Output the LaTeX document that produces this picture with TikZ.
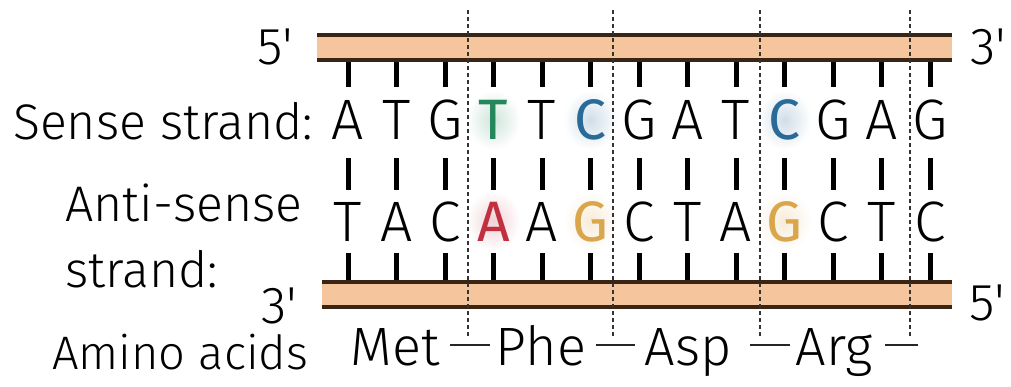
\documentclass[tikz,border=0pt]{standalone}
\usepackage{fontspec}
\setmainfont{Fira Sans Light}
\newfontfamily\heavyface{Fira Sans}
\definecolor{peach}{HTML}{F5C69E}
\definecolor{strandbrown}{HTML}{3A2414}
\definecolor{tgreen}{HTML}{23875A}
\definecolor{cblue}{HTML}{2A6A98}
\definecolor{ared}{HTML}{C0303F}
\definecolor{gtan}{HTML}{D9A64E}
\newcommand{\prm}{\textquotesingle}
\tikzset{
  barline/.style={draw=strandbrown, line width=3.5pt},
  basetick/.style={line width=5pt, black},
  codonsep/.style={line width=1.8pt, dash pattern=on 4pt off 3pt, black!80},
  base/.style={font=\fontsize{57}{57}\selectfont, inner sep=0pt, anchor=base},
  hbase/.style={font=\fontsize{57}{57}\selectfont\heavyface, inner sep=0pt, anchor=base, text=#1},
  label/.style={font=\fontsize{50}{50}\selectfont, inner sep=0pt, anchor=base west},
  endlabel/.style={font=\fontsize{52}{52}\selectfont, inner sep=0pt, anchor=base},
  amino/.style={font=\fontsize{54}{54}\selectfont, inner sep=0pt, anchor=base},
  peptide/.style={line width=2.5pt, black!85},
  halo/.style={inner color=#1!22, outer color=white}
}
\begin{document}
\begin{tikzpicture}[x=1pt,y=-1pt]
\useasboundingbox (0,0) rectangle (1011,387);

% soft glow behind the highlighted bases
\foreach \i/\c/\yy in {4/tgreen/120, 6/cblue/120, 10/cblue/120, 4/ared/221, 6/gtan/221, 10/gtan/221}{
  \shade[halo=\c] ({348+(\i-1)*48.5},\yy) ellipse (27 and 30);
}

% sugar-phosphate backbones
\fill[peach] (317,35) rectangle (952,60);
\draw[barline] (317,35) -- (952,35);
\draw[barline] (317,60) -- (952,60);
\fill[peach] (322,282) rectangle (952,307);
\draw[barline] (322,282) -- (952,282);
\draw[barline] (322,307) -- (952,307);

% base ticks
\foreach \i in {1,...,13}{
  \pgfmathsetmacro{\xx}{348+(\i-1)*48.5}
  \draw[basetick] (\xx,62) -- (\xx,87);
  \draw[basetick] (\xx,158) -- (\xx,190);
  \draw[basetick] (\xx,253) -- (\xx,280);
}

% sense strand bases (plain and highlighted)
\foreach \b/\i in {A/1,T/2,G/3,T/5,G/7,A/8,T/9,G/11,A/12,G/13}{
  \node[base] (s\i) at ({348+(\i-1)*48.5},140) {\b};
}
\foreach \b/\i/\c in {T/4/tgreen,C/6/cblue,C/10/cblue}{
  \node[hbase=\c] (s\i) at ({348+(\i-1)*48.5},140) {\b};
}
% anti-sense strand bases (plain and highlighted)
\foreach \b/\i in {T/1,A/2,C/3,A/5,C/7,T/8,A/9,C/11,T/12,C/13}{
  \node[base] (a\i) at ({348+(\i-1)*48.5},242) {\b};
}
\foreach \b/\i/\c in {A/4/ared,G/6/gtan,G/10/gtan}{
  \node[hbase=\c] (a\i) at ({348+(\i-1)*48.5},242) {\b};
}

% codon boundaries
\foreach \xx in {468,613,760,910}{
  \draw[codonsep] (\xx,10) -- (\xx,337);
}

% strand ends
\node[endlabel] (top5) at (275,65) {5\prm};
\node[endlabel] (top3) at (988,65) {3\prm};
\node[endlabel] (bot3) at (279,323) {3\prm};
\node[endlabel] (bot5) at (987,320) {5\prm};

% row labels
\node[label] (sense) at (13,140) {Sense strand:};
\node[label] (anti1) at (65,222) {Anti-sense};
\node[label, font=\fontsize{50}{50}\selectfont] (anti2) at (65,287) {strand:};
\node[label, font=\fontsize{47}{47}\selectfont] (aalab) at (52,369) {Amino acids};

% amino acid chain
\node[amino] (met) at (395,365) {Met};
\node[amino] (phe) at (541,365) {Phe};
\node[amino] (asp) at (688,365) {Asp};
\node[amino] (arg) at (834,365) {Arg};
\coordinate (b1a) at (450,345); \coordinate (b1b) at (490,345);
\coordinate (b2a) at (596,345); \coordinate (b2b) at (635,345);
\coordinate (b3a) at (750,345); \coordinate (b3b) at (790,345);
\coordinate (b4a) at (885,345); \coordinate (chainend) at (918,345);
\draw[peptide] (b1a) -- (b1b);
\draw[peptide] (b2a) -- (b2b);
\draw[peptide] (b3a) -- (b3b);
\draw[peptide] (b4a) -- (chainend);
\end{tikzpicture}
\end{document}
